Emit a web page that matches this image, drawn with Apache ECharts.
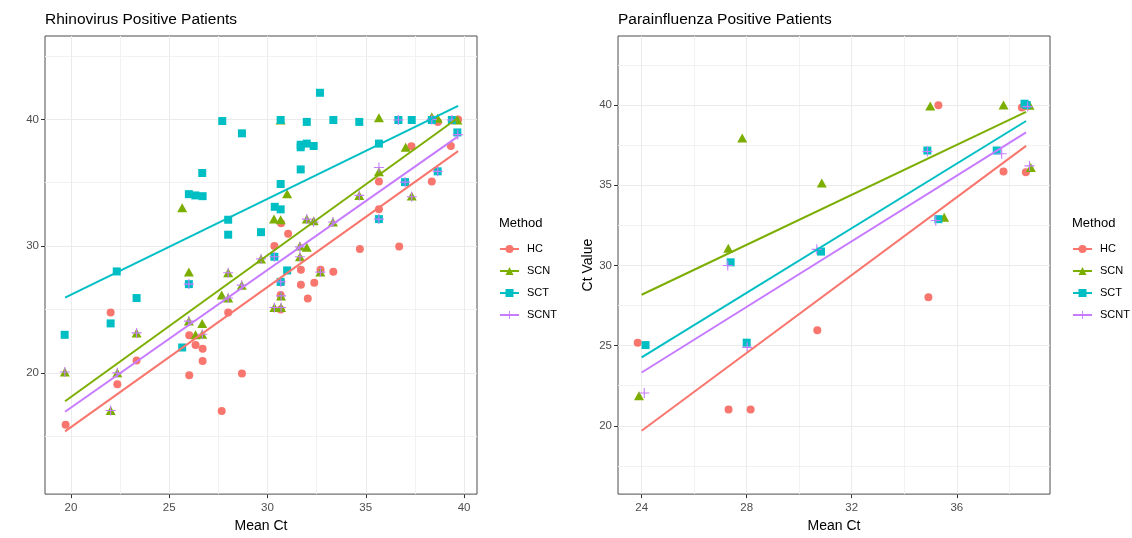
<!DOCTYPE html>
<html>
<head>
<meta charset="utf-8">
<script src="https://cdn.jsdelivr.net/npm/echarts@6/dist/echarts.min.js"></script>
<style>
html,body{margin:0;padding:0;background:#fff;}
#chart{width:1132px;height:538px;}
</style>
</head>
<body>
<div id="chart"></div>
<script>
// ---------- DATA ----------
const methods = ['HC', 'SCN', 'SCT', 'SCNT'];
const colors = ['#F8766D', '#7CAE00', '#00BFC4', '#C77CFF'];

// Rhinovirus panel: [Mean Ct, Ct Value]
const rhinoHC = [[19.73,15.9],[22.02,24.77],[22.36,19.1],[23.34,20.98],[26.02,22.97],[26.34,22.2],[26.7,21.9],[26.7,20.93],[26.02,19.8],[27.67,16.98],[28.0,24.77],[28.7,19.95],[30.35,30.0],[30.69,31.8],[31.05,30.97],[30.69,27.15],[30.67,26.15],[30.67,25.0],[31.7,28.14],[31.7,26.95],[32.05,25.87],[32.38,27.1],[32.7,28.14],[33.35,27.97],[34.7,29.78],[36.7,29.96],[35.67,32.9],[35.67,35.1],[38.36,35.1],[37.32,37.87],[39.33,37.9],[38.67,39.8],[39.7,40.0]];
const rhinoSCN = [[19.69,20.07],[22.02,17.03],[22.36,20.0],[23.34,23.15],[25.66,33.03],[26.0,27.95],[26.0,24.08],[26.34,23.0],[26.68,23.05],[26.68,23.9],[27.67,26.15],[28.0,27.9],[28.0,25.9],[28.69,26.92],[29.67,28.99],[30.33,32.13],[30.67,32.08],[30.35,25.16],[30.69,25.16],[30.69,26.07],[30.67,39.95],[31.0,34.14],[31.65,30.0],[31.65,29.16],[32.0,29.9],[32.0,32.13],[32.35,32.0],[32.69,27.95],[33.33,31.9],[34.67,34.0],[35.67,35.87],[35.67,40.13],[37.03,37.8],[37.34,33.96],[38.36,40.2],[38.66,40.08],[39.66,39.95]];
const rhinoSCT = [[19.68,23.0],[22.02,23.9],[22.33,28.0],[23.34,25.9],[25.66,22.0],[26.0,27.0],[26.0,34.1],[26.33,34.0],[26.7,33.94],[26.68,35.77],[27.7,39.87],[28.0,32.08],[28.0,30.9],[28.7,38.9],[29.67,31.1],[30.35,29.16],[30.37,33.1],[30.67,32.9],[30.67,34.9],[30.67,39.95],[30.67,27.18],[31.0,28.08],[31.69,38.0],[31.69,37.8],[31.69,36.05],[32.0,38.09],[32.0,39.8],[32.35,37.9],[32.67,42.1],[33.35,39.95],[34.67,39.8],[35.67,38.09],[35.67,32.13],[36.66,39.95],[37.0,35.05],[37.34,39.95],[38.36,39.95],[38.66,35.9],[39.38,39.95],[39.66,38.97]];
const rhinoSCNT = [[19.69,20.07],[22.02,17.03],[22.36,20.0],[23.34,23.15],[26.0,24.08],[26.0,27.0],[26.68,23.05],[28.0,27.9],[28.0,25.9],[28.69,26.92],[29.67,28.99],[30.35,29.16],[30.35,25.16],[30.67,27.18],[30.69,25.16],[30.69,26.07],[31.65,29.94],[31.65,29.16],[32.0,32.13],[32.35,31.9],[32.69,27.95],[33.33,31.9],[34.67,34.0],[35.67,32.13],[35.67,36.2],[36.66,39.95],[37.0,35.05],[37.34,33.9],[38.66,35.9],[38.36,40.0],[39.38,39.95],[39.68,38.8]];

// Rhinovirus fitted lines
const rhinoFitHC = [[19.7,15.38],[39.7,37.5]];
const rhinoFitSCN = [[19.7,17.76],[39.7,40.13]];
const rhinoFitSCT = [[19.7,25.93],[39.7,41.06]];
const rhinoFitSCNT = [[19.7,16.93],[39.7,38.66]];

// Parainfluenza panel
const paraHC = [[23.85,25.18],[27.31,21.01],[28.15,21.01],[30.69,25.95],[34.92,28.01],[35.3,39.98],[37.78,35.86],[38.48,39.84],[38.63,35.8]];
const paraSCN = [[23.9,21.87],[27.3,31.07],[27.83,37.94],[30.86,35.13],[34.99,39.94],[35.52,33.0],[37.78,40.0],[38.77,39.98],[38.82,36.1]];
const paraSCT = [[24.15,25.03],[27.39,30.19],[28.0,25.18],[30.83,30.86],[34.88,37.16],[35.3,32.88],[37.52,37.16],[38.58,40.08],[38.66,40.0]];
const paraSCNT = [[24.1,22.04],[27.28,29.99],[28.02,24.89],[30.67,31.0],[34.88,37.1],[35.2,32.8],[37.71,36.96],[38.7,39.9],[38.77,36.2]];

const paraFitHC = [[24.0,19.69],[38.64,37.45]];
const paraFitSCN = [[24.0,28.17],[38.64,39.57]];
const paraFitSCT = [[24.0,24.27],[38.64,39.0]];
const paraFitSCNT = [[24.0,23.32],[38.64,38.29]];

// Axis ranges and ticks
const rhinoXRange = [18.68, 40.66];
const rhinoYRange = [10.43, 46.58];
const rhinoXMajor = [20, 25, 30, 35, 40];
const rhinoXMinor = [22.5, 27.5, 32.5, 37.5];
const rhinoYMajor = [20, 30, 40];
const rhinoYMinor = [15, 25, 35, 45];

const paraXRange = [23.10, 39.55];
const paraYRange = [15.74, 44.30];
const paraXMajor = [24, 28, 32, 36];
const paraXMinor = [26, 30, 34, 38];
const paraYMajor = [20, 25, 30, 35, 40];
const paraYMinor = [17.5, 22.5, 27.5, 32.5, 37.5, 42.5];

const titles = ['Rhinovirus Positive Patients', 'Parainfluenza Positive Patients'];

// ---------- CHART ----------
const FONT = '"Liberation Sans", Arial, sans-serif';
const crossPath = 'path://M4.45,0H5.55V4.45H10V5.55H5.55V10H4.45V5.55H0V4.45H4.45Z';
const symbols = ['circle', 'triangle', 'rect', crossPath];
const sizes = [8, [10, 9], 8, 10];

const panels = [
  {pts: [rhinoHC, rhinoSCN, rhinoSCT, rhinoSCNT], fits: [rhinoFitHC, rhinoFitSCN, rhinoFitSCT, rhinoFitSCNT],
   xr: rhinoXRange, yr: rhinoYRange, xMaj: rhinoXMajor, xMin: rhinoXMinor, yMaj: rhinoYMajor, yMin: rhinoYMinor, left: 45, yName: ''},
  {pts: [paraHC, paraSCN, paraSCT, paraSCNT], fits: [paraFitHC, paraFitSCN, paraFitSCT, paraFitSCNT],
   xr: paraXRange, yr: paraYRange, xMaj: paraXMajor, xMin: paraXMinor, yMaj: paraYMajor, yMin: paraYMinor, left: 618, yName: 'Ct Value'}
];

const grid = [], xAxis = [], yAxis = [], series = [], legend = [], title = [];

panels.forEach((p, i) => {
  grid.push({left: p.left, top: 36, width: 432, height: 467, show: true, borderColor: '#4d4d4d', borderWidth: 1, backgroundColor: '#fff', z: 0});
  xAxis.push({
    type: 'value', gridIndex: i, min: p.xr[0], max: p.xr[1],
    name: 'Mean Ct', nameLocation: 'middle', nameGap: 21,
    nameTextStyle: {color: '#000', fontSize: 14, fontFamily: FONT},
    axisLine: {show: false},
    axisTick: {show: true, length: 4, customValues: p.xMaj, lineStyle: {color: '#333'}},
    axisLabel: {customValues: p.xMaj, color: '#4d4d4d', fontSize: 11.5, fontFamily: FONT, margin: 8},
    splitLine: {show: false}
  });
  yAxis.push({
    type: 'value', gridIndex: i, min: p.yr[0], max: p.yr[1],
    name: p.yName, nameLocation: 'middle', nameGap: 23,
    nameTextStyle: {color: '#000', fontSize: 14, fontFamily: FONT},
    axisLine: {show: false},
    axisTick: {show: true, length: 4, customValues: p.yMaj, lineStyle: {color: '#333'}},
    axisLabel: {customValues: p.yMaj, color: '#4d4d4d', fontSize: 11.5, fontFamily: FONT, margin: 6},
    splitLine: {show: false}
  });
  // gridlines
  const gl = [];
  p.xMin.forEach(v => gl.push({xAxis: v, lineStyle: {color: '#f2f2f2', width: 1, type: 'solid'}}));
  p.yMin.forEach(v => gl.push({yAxis: v, lineStyle: {color: '#f2f2f2', width: 1, type: 'solid'}}));
  p.xMaj.forEach(v => gl.push({xAxis: v, lineStyle: {color: '#ebebeb', width: 1, type: 'solid'}}));
  p.yMaj.forEach(v => gl.push({yAxis: v, lineStyle: {color: '#ebebeb', width: 1, type: 'solid'}}));
  series.push({
    name: 'grid' + i, type: 'scatter', xAxisIndex: i, yAxisIndex: i, data: [], z: 1, silent: true,
    markLine: {silent: true, z: 1, symbol: ['none', 'none'], label: {show: false}, animation: false,
      lineStyle: {type: 'solid'}, emphasis: {disabled: true}, data: gl}
  });
  // fit lines (first, so legend uses their icons)
  methods.forEach((m, k) => {
    series.push({
      name: m, type: 'line', xAxisIndex: i, yAxisIndex: i, data: p.fits[k],
      symbol: symbols[k], symbolSize: sizes[k], showSymbol: false, z: 4, silent: true,
      lineStyle: {color: colors[k], width: 2}, itemStyle: {color: colors[k]},
      animation: false
    });
  });
  methods.forEach((m, k) => {
    series.push({
      name: m + ' points', type: 'scatter', xAxisIndex: i, yAxisIndex: i, data: p.pts[k],
      symbol: symbols[k], symbolSize: sizes[k], z: 3, silent: true,
      itemStyle: {color: colors[k], opacity: 1}, animation: false
    });
  });
  const lx = i === 0 ? 499 : 1072;
  legend.push({
    data: methods, orient: 'vertical', left: lx, top: 242, padding: 0, itemWidth: 19, itemHeight: 10, itemGap: 8,
    selectedMode: false,
    textStyle: {fontSize: 11, fontFamily: FONT, color: '#000', lineHeight: 14, padding: [0, 0, 0, 3]}
  });
  title.push({text: titles[i], left: p.left, top: 12, padding: 0,
    textStyle: {fontSize: 15.5, fontWeight: 'normal', color: '#000', fontFamily: FONT}});
  title.push({text: 'Method', left: lx, top: 217, padding: 0,
    textStyle: {fontSize: 13, fontWeight: 'normal', color: '#000', fontFamily: FONT}});
});

const chart = echarts.init(document.getElementById('chart'), null, {renderer: 'canvas'});
chart.setOption({animation: false, backgroundColor: '#fff', title, grid, xAxis, yAxis, legend, series});
</script>
</body>
</html>
